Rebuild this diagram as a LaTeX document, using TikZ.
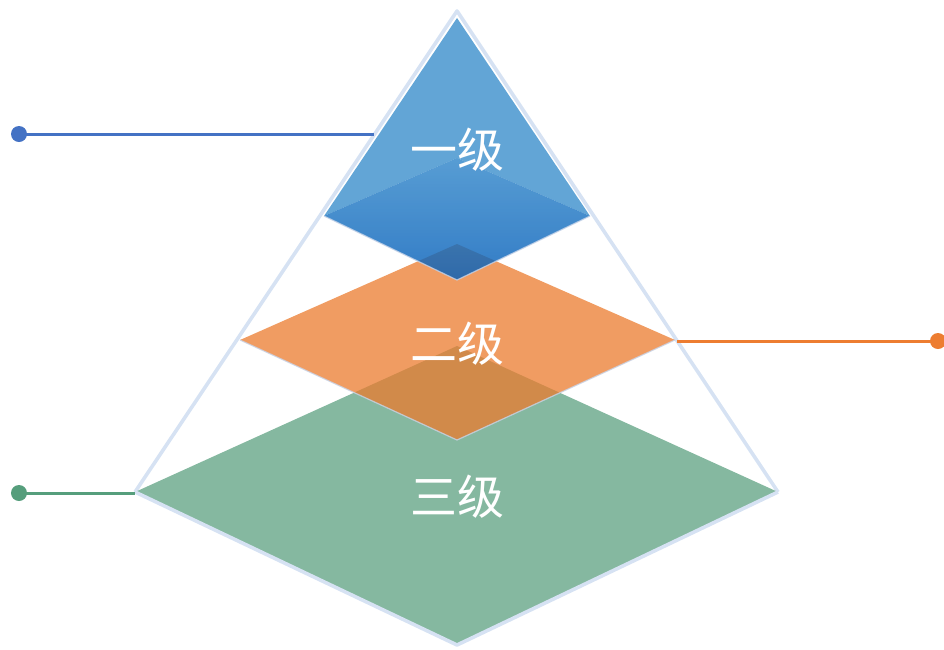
\documentclass[tikz,border=0pt]{standalone}
\usepackage{fontspec}
\newfontfamily\cjk{Noto Sans CJK SC}
\definecolor{outl}{RGB}{214,226,243}
\definecolor{edgel}{RGB}{200,212,232}
\definecolor{gfill}{RGB}{92,160,128}
\definecolor{ofill}{RGB}{235,123,46}
\definecolor{bfill}{RGB}{46,135,200}
\definecolor{btop}{RGB}{50,135,202}
\definecolor{bbot}{RGB}{5,95,185}
\definecolor{lblue}{RGB}{68,114,196}
\definecolor{lorange}{RGB}{237,125,49}
\definecolor{lgreen}{RGB}{86,158,124}
\tikzset{
  lvl/.style={font=\cjk\fontsize{47}{50}\selectfont, text=white, inner sep=0pt},
  dotn/.style={circle, inner sep=0pt, minimum size=16pt},
  conn/.style={line width=3pt},
  outline/.style={draw=outl, line width=3.6pt, line join=round},
}
\begin{document}
\begin{tikzpicture}[x=1pt,y=-1pt]
\useasboundingbox (0,0) rectangle (944,649);
% vertices
\coordinate (apex) at (457,11);
\coordinate (gl) at (135,492);
\coordinate (gr) at (778,492);
\coordinate (gt) at (457,346);
\coordinate (gb) at (457,645);
\coordinate (ol) at (240,340);
\coordinate (or) at (675,340);
\coordinate (ot) at (457,244);
\coordinate (ob) at (457,440);
\coordinate (bapex) at (457,18);
\coordinate (bl) at (324,216);
\coordinate (br) at (590,216);
\coordinate (bt) at (457,158);
\coordinate (bb) at (457,280);
\coordinate (cb) at (374,134);
\coordinate (co) at (677,341);
\coordinate (cg) at (135,493);
% pyramid side edges
\draw[outline] (gl) -- (apex) -- (gr);
% green layer
\fill[gfill, fill opacity=0.75] (gl) -- (gt) -- (gr) -- (gb) -- cycle;
\draw[outline] (gl) -- (gb) -- (gr);
% orange layer
\fill[ofill, fill opacity=0.75] (ol) -- (ot) -- (or) -- (ob) -- cycle;
\draw[edgel, line width=1.2pt, opacity=0.8] (ol) -- (ob) -- (or);
% blue layer
\fill[bfill, fill opacity=0.75] (bl) -- (bapex) -- (br) -- (bt) -- cycle;
\shade[top color=btop, bottom color=bbot, fill opacity=0.82] (bl) -- (bt) -- (br) -- (bb) -- cycle;
\draw[edgel, line width=1.2pt, opacity=0.8] (bl) -- (bb) -- (br);
% labels
\node[lvl] (t1) at (457,150) {一级};
\node[lvl] (t2) at (457,344) {二级};
\node[lvl] (t3) at (457,497) {三级};
% connectors
\node[dotn, fill=lblue] (d1) at (19,134) {};
\node[dotn, fill=lorange] (d2) at (938,341) {};
\node[dotn, fill=lgreen] (d3) at (19,493) {};
\draw[conn, lblue] (d1.center) -- (cb);
\draw[conn, lorange] (co) -- (d2.center);
\draw[conn, lgreen] (d3.center) -- (cg);
\end{tikzpicture}
\end{document}
